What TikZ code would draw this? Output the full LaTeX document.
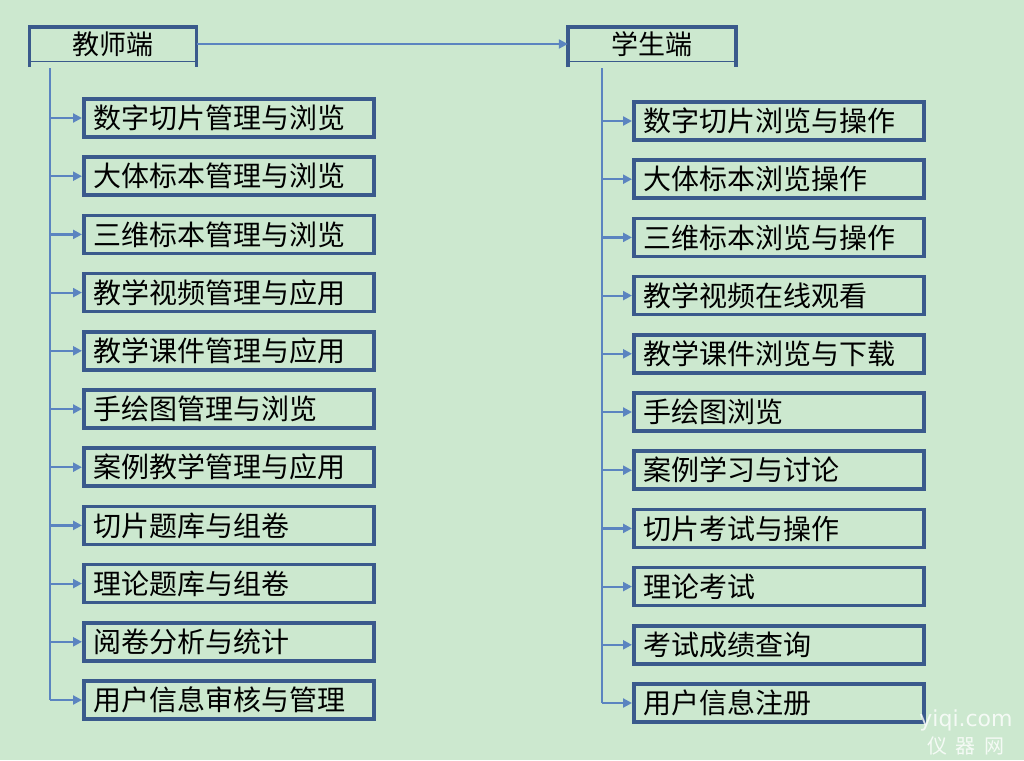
\documentclass[tikz,border=0pt]{standalone}
\usepackage{fontspec}
\newfontfamily\cjk{Noto Sans CJK SC}
\usetikzlibrary{arrows.meta}
\definecolor{bg}{HTML}{CCE8CF}
\definecolor{bx}{HTML}{3A5A8C}
\definecolor{ln}{HTML}{5B84C0}
\begin{document}
\begin{tikzpicture}[x=1pt,y=-1pt,
  item/.style={draw=bx,line width=3.5pt,minimum height=38pt,text width=270pt,inner xsep=10pt,inner ysep=0pt,align=left,anchor=west,font=\cjk\fontsize{28}{28}\selectfont},
  conn/.style={ln,line width=2.2pt,-{Triangle[length=9pt,width=9pt]}},
  trunk/.style={ln,line width=2.2pt}]
\fill[bg] (0,0) rectangle (1024,760);
\useasboundingbox (0,0) rectangle (1024,760);
% headers
\node[font=\cjk\fontsize{27}{27}\selectfont,minimum width=167pt,minimum height=34pt,inner sep=0pt] (T) at (113,44) {教师端};
\node[font=\cjk\fontsize{27}{27}\selectfont,minimum width=168pt,minimum height=34pt,inner sep=0pt] (S) at (652,44) {学生端};
\foreach \n in {T,S}{
  \draw[bx,line width=3.5pt] ([yshift=-6pt]\n.south west) -- (\n.north west) -- (\n.north east) -- ([yshift=-6pt]\n.south east);
  \draw[bx,line width=1pt] (\n.south west) -- (\n.south east);
}
\draw[conn] (T.east) -- (S.west);
\coordinate (tt) at (50,68); \coordinate (tb) at (50,700);
\coordinate (st) at (602,68); \coordinate (sb) at (602,703);
\draw[trunk] (tt) -- (tb);
\draw[trunk] (st) -- (sb);
\foreach \t [count=\i] in {数字切片管理与浏览,大体标本管理与浏览,三维标本管理与浏览,教学视频管理与应用,教学课件管理与应用,手绘图管理与浏览,案例教学管理与应用,切片题库与组卷,理论题库与组卷,阅卷分析与统计,用户信息审核与管理}{
  \node[item] (L\i) at (82,{118+58.2*(\i-1)}) {\t};
  \coordinate (lj\i) at (50,{118+58.2*(\i-1)});
  \draw[conn] (lj\i) -- (L\i.west);
}
\foreach \t [count=\i] in {数字切片浏览与操作,大体标本浏览操作,三维标本浏览与操作,教学视频在线观看,教学课件浏览与下载,手绘图浏览,案例学习与讨论,切片考试与操作,理论考试,考试成绩查询,用户信息注册}{
  \node[item] (R\i) at (632,{121+58.2*(\i-1)}) {\t};
  \coordinate (rj\i) at (602,{121+58.2*(\i-1)});
  \draw[conn] (rj\i) -- (R\i.west);
}
\node[text=white,opacity=0.8,font=\fontspec{DejaVu Sans}\fontsize{22}{22}\selectfont] (w1) at (966,720) {yiqi.com};
\node[text=white,opacity=0.8,font=\cjk\fontsize{20}{20}\selectfont] (w2) at (966,746) {仪\ \ 器\ \ 网};
\end{tikzpicture}
\end{document}
